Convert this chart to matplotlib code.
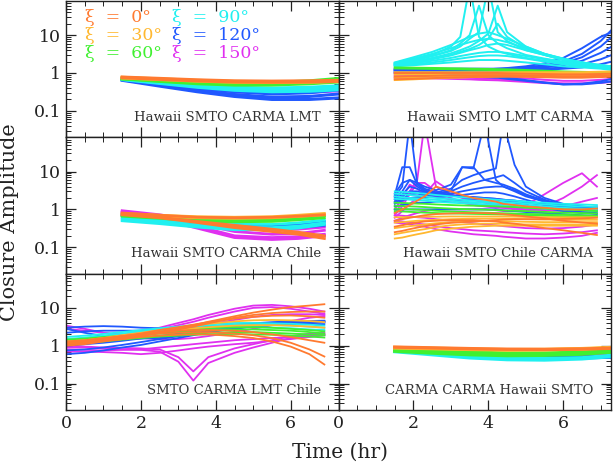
import numpy as np
import matplotlib
matplotlib.use("Agg")
import matplotlib.pyplot as plt
from matplotlib.ticker import MultipleLocator, LogLocator, NullFormatter

plt.rcParams['font.family'] = ['DejaVu Serif']

xi_names = ['0', '30', '60', '90', '120', '150']
xi_colors = ['#ff7a30', '#ffb830', '#40f030', '#20f0f0', '#2058ff', '#e030f0']

# ---- Hawaii SMTO CARMA LMT
p1_t = [1.5, 2.5, 3.5, 4.5, 5.5, 6.5, 7.3]
p1_xi0 = [[0.78, 0.72, 0.66, 0.62, 0.61, 0.62, 0.64],
          [0.75, 0.68, 0.62, 0.58, 0.57, 0.58, 0.60]]
p1_xi30 = [[0.77, 0.70, 0.64, 0.60, 0.59, 0.60, 0.63],
           [0.74, 0.67, 0.61, 0.57, 0.56, 0.57, 0.60]]
p1_xi60 = [[0.72, 0.65, 0.58, 0.55, 0.56, 0.62, 0.72],
           [0.70, 0.62, 0.55, 0.52, 0.53, 0.58, 0.66],
           [0.70, 0.60, 0.52, 0.48, 0.48, 0.52, 0.58]]
p1_xi90 = [[0.70, 0.58, 0.48, 0.42, 0.40, 0.42, 0.46],
           [0.68, 0.55, 0.44, 0.38, 0.36, 0.38, 0.42],
           [0.67, 0.53, 0.42, 0.35, 0.32, 0.33, 0.36]]
p1_xi120 = [[0.68, 0.52, 0.40, 0.32, 0.28, 0.30, 0.36],
            [0.66, 0.48, 0.35, 0.27, 0.23, 0.24, 0.28],
            [0.64, 0.45, 0.32, 0.24, 0.20, 0.20, 0.22]]
p1_xi150 = [[0.68, 0.54, 0.42, 0.35, 0.32, 0.33, 0.38],
            [0.67, 0.52, 0.40, 0.32, 0.30, 0.31, 0.34]]

# ---- Hawaii SMTO LMT CARMA
p2_t = [1.5, 2.0, 2.5, 3.0, 3.25, 3.5, 3.75, 4.0, 4.25, 4.5, 5.0, 5.5, 6.0, 6.5, 7.0, 7.3]
p2_xi0 = [[1.0, 1.0, 1.0, 1.0, 1.0, 1.0, 1.0, 1.0, 1.0, 0.98, 0.96, 0.94, 0.92, 0.92, 0.94, 0.96],
          [0.8, 0.82, 0.84, 0.86, 0.87, 0.87, 0.88, 0.88, 0.88, 0.88, 0.86, 0.84, 0.82, 0.82, 0.84, 0.86],
          [0.68, 0.7, 0.73, 0.76, 0.77, 0.78, 0.79, 0.79, 0.8, 0.8, 0.79, 0.77, 0.75, 0.75, 0.78, 0.8]]
p2_xi30 = [[1.05, 1.05, 1.05, 1.05, 1.05, 1.05, 1.05, 1.05, 1.05, 1.05, 1.05, 1.05, 1.05, 1.05, 1.08, 1.1],
           [0.9, 0.92, 0.93, 0.95, 0.95, 0.95, 0.95, 0.95, 0.95, 0.95, 0.95, 0.95, 0.95, 0.96, 0.98, 1.0],
           [0.75, 0.78, 0.8, 0.83, 0.84, 0.85, 0.86, 0.87, 0.87, 0.88, 0.88, 0.88, 0.88, 0.89, 0.9, 0.92],
           [0.65, 0.68, 0.72, 0.75, 0.76, 0.78, 0.79, 0.8, 0.81, 0.82, 0.83, 0.84, 0.85, 0.86, 0.87, 0.88]]
p2_xi60 = [[1.4, 1.38, 1.36, 1.33, 1.32, 1.3, 1.29, 1.28, 1.26, 1.25, 1.2, 1.15, 1.1, 1.07, 1.05, 1.05],
           [1.32, 1.3, 1.28, 1.25, 1.24, 1.22, 1.21, 1.2, 1.18, 1.16, 1.12, 1.08, 1.04, 1.01, 1.0, 1.0]]
p2_xi90 = [[1.8, 2.3, 3.0, 5.0, 9.0, 200, 9.0, 5.0, 3.8, 3.2, 2.5, 2.1, 1.8, 1.6, 1.5, 1.4],
           [1.7, 2.1, 2.8, 4.0, 6.0, 10, 60, 10, 6.0, 4.5, 3.0, 2.4, 2.0, 1.7, 1.5, 1.4],
           [1.75, 2.2, 2.8, 3.8, 5.0, 8.0, 12, 200, 12, 7.0, 4.0, 3.0, 2.3, 1.9, 1.6, 1.5],
           [1.7, 2.0, 2.5, 3.3, 4.0, 5.0, 7.0, 11, 60, 12, 5.0, 3.2, 2.4, 1.9, 1.6, 1.5],
           [1.65, 1.9, 2.4, 3.0, 3.6, 4.3, 5.5, 8.0, 20, 9.0, 4.5, 3.0, 2.2, 1.8, 1.5, 1.4],
           [1.6, 1.9, 2.3, 2.9, 3.4, 4.0, 4.6, 5.5, 6.0, 5.5, 4.0, 3.0, 2.2, 1.8, 1.5, 1.3],
           [1.6, 1.8, 2.1, 2.5, 2.8, 3.1, 3.4, 3.6, 3.6, 3.4, 2.8, 2.3, 1.9, 1.6, 1.4, 1.3],
           [1.55, 1.7, 1.9, 2.2, 2.4, 2.6, 2.8, 2.9, 2.9, 2.8, 2.4, 2.0, 1.7, 1.5, 1.35, 1.25],
           [1.5, 1.6, 1.75, 1.9, 2.0, 2.1, 2.2, 2.2, 2.2, 2.1, 1.9, 1.7, 1.5, 1.4, 1.3, 1.2],
           [1.9, 2.6, 3.6, 5.5, 7.0, 9.0, 11, 12, 10, 8.0, 5.0, 3.2, 2.3, 1.8, 1.5, 1.4],
           [1.85, 2.4, 3.2, 4.5, 5.5, 6.5, 7.5, 8.0, 7.5, 6.5, 4.5, 3.2, 2.4, 1.9, 1.6, 1.5]]
p2_xi120 = [[1.25, 1.25, 1.25, 1.25, 1.25, 1.25, 1.25, 1.25, 1.3, 1.3, 1.4, 1.6, 2.0, 3.2, 7.0, 14],
            [1.2, 1.2, 1.2, 1.2, 1.2, 1.2, 1.2, 1.2, 1.25, 1.3, 1.4, 1.5, 1.8, 2.6, 5.0, 9.0],
            [1.2, 1.2, 1.2, 1.2, 1.2, 1.2, 1.2, 1.2, 1.2, 1.2, 1.3, 1.4, 1.6, 2.1, 3.4, 5.0],
            [1.15, 1.15, 1.15, 1.15, 1.15, 1.15, 1.15, 1.15, 1.15, 1.2, 1.2, 1.3, 1.4, 1.7, 2.3, 3.0],
            [1.1, 1.1, 1.1, 1.1, 1.1, 1.1, 1.1, 1.1, 1.1, 1.1, 1.15, 1.2, 1.3, 1.4, 1.7, 2.0],
            [1.05, 1.0, 0.95, 0.9, 0.88, 0.86, 0.84, 0.82, 0.8, 0.75, 0.65, 0.56, 0.5, 0.5, 0.55, 0.6],
            [1.0, 0.95, 0.9, 0.85, 0.83, 0.81, 0.79, 0.77, 0.75, 0.7, 0.62, 0.55, 0.5, 0.52, 0.6, 0.7],
            [1.3, 1.3, 1.3, 1.3, 1.3, 1.3, 1.3, 1.3, 1.3, 1.35, 1.5, 1.8, 2.5, 4.5, 9.0, 12]]
p2_xi150 = [[0.95, 0.95, 0.93, 0.9, 0.88, 0.86, 0.84, 0.82, 0.8, 0.78, 0.72, 0.66, 0.62, 0.62, 0.66, 0.7],
            [0.85, 0.84, 0.82, 0.79, 0.77, 0.75, 0.73, 0.71, 0.69, 0.67, 0.62, 0.57, 0.53, 0.53, 0.56, 0.6],
            [0.75, 0.74, 0.72, 0.7, 0.69, 0.68, 0.66, 0.65, 0.64, 0.62, 0.58, 0.54, 0.52, 0.52, 0.55, 0.58]]

# ---- Hawaii SMTO CARMA Chile
p3_t = [1.5, 2.5, 3.5, 4.5, 5.5, 6.2, 6.9]
p3_xi0 = [[0.80, 0.70, 0.62, 0.60, 0.62, 0.66, 0.72],
          [0.75, 0.62, 0.48, 0.38, 0.30, 0.25, 0.20],
          [0.72, 0.60, 0.45, 0.33, 0.26, 0.22, 0.17]]
p3_xi30 = [[0.78, 0.70, 0.64, 0.62, 0.64, 0.70, 0.78],
           [0.74, 0.66, 0.60, 0.58, 0.60, 0.65, 0.72]]
p3_xi60 = [[0.70, 0.62, 0.55, 0.52, 0.54, 0.60, 0.68],
           [0.66, 0.58, 0.50, 0.47, 0.48, 0.53, 0.60]]
p3_xi90 = [[0.60, 0.52, 0.44, 0.40, 0.40, 0.44, 0.52],
           [0.55, 0.46, 0.38, 0.33, 0.33, 0.36, 0.44],
           [0.50, 0.42, 0.34, 0.29, 0.29, 0.32, 0.40]]
p3_xi120 = [[0.72, 0.60, 0.48, 0.40, 0.37, 0.40, 0.48],
            [0.68, 0.55, 0.42, 0.34, 0.31, 0.33, 0.38]]
p3_xi150 = [[0.92, 0.72, 0.50, 0.35, 0.30, 0.30, 0.34],
            [0.88, 0.66, 0.42, 0.26, 0.22, 0.23, 0.28],
            [0.84, 0.60, 0.36, 0.20, 0.18, 0.19, 0.22],
            [0.80, 0.56, 0.32, 0.18, 0.16, 0.17, 0.20]]

# ---- Hawaii SMTO Chile CARMA
p4_t = [1.5, 1.7, 1.9, 2.1, 2.3, 2.6, 3.0, 3.3, 3.6, 3.9, 4.2, 4.4, 4.7, 5.0, 5.5, 6.0, 6.5, 6.9]
p4_xi0 = [[0.5, 0.55, 0.6, 0.65, 0.7, 0.75, 0.78, 0.8, 0.8, 0.8, 0.78, 0.75, 0.7, 0.65, 0.58, 0.5, 0.45, 0.42],
          [0.35, 0.38, 0.42, 0.45, 0.48, 0.5, 0.52, 0.52, 0.52, 0.5, 0.48, 0.45, 0.42, 0.38, 0.32, 0.28, 0.24, 0.21],
          [0.8, 1.0, 1.3, 1.7, 2.2, 4.0, 3.0, 2.4, 2.0, 1.8, 1.6, 1.4, 1.3, 1.2, 1.1, 1.0, 1.0, 1.05],
          [0.25, 0.27, 0.3, 0.33, 0.36, 0.4, 0.44, 0.46, 0.48, 0.5, 0.52, 0.54, 0.55, 0.55, 0.55, 0.56, 0.58, 0.6]]
p4_xi30 = [[0.62, 0.62, 0.63, 0.63, 0.64, 0.64, 0.65, 0.65, 0.65, 0.65, 0.65, 0.65, 0.64, 0.63, 0.62, 0.62, 0.62, 0.62],
           [0.45, 0.46, 0.48, 0.5, 0.51, 0.53, 0.55, 0.56, 0.57, 0.57, 0.57, 0.57, 0.56, 0.55, 0.54, 0.53, 0.53, 0.53],
           [0.32, 0.34, 0.36, 0.38, 0.4, 0.43, 0.46, 0.47, 0.48, 0.49, 0.49, 0.49, 0.48, 0.47, 0.46, 0.46, 0.46, 0.46],
           [0.22, 0.24, 0.26, 0.28, 0.3, 0.34, 0.38, 0.4, 0.41, 0.42, 0.42, 0.42, 0.41, 0.4, 0.4, 0.4, 0.4, 0.4],
           [0.17, 0.18, 0.2, 0.22, 0.24, 0.28, 0.31, 0.33, 0.35, 0.36, 0.37, 0.37, 0.37, 0.37, 0.37, 0.37, 0.37, 0.37]]
p4_xi60 = [[1.5, 1.48, 1.45, 1.42, 1.4, 1.35, 1.3, 1.27, 1.25, 1.22, 1.2, 1.18, 1.15, 1.1, 1.05, 1.0, 0.95, 0.9],
           [1.25, 1.22, 1.2, 1.18, 1.15, 1.1, 1.05, 1.02, 1.0, 0.98, 0.96, 0.94, 0.92, 0.9, 0.86, 0.82, 0.8, 0.78],
           [1.05, 1.02, 1.0, 0.98, 0.96, 0.92, 0.88, 0.86, 0.84, 0.82, 0.8, 0.79, 0.78, 0.76, 0.74, 0.72, 0.7, 0.68],
           [0.9, 0.88, 0.86, 0.84, 0.82, 0.8, 0.78, 0.77, 0.76, 0.75, 0.74, 0.73, 0.72, 0.7, 0.68, 0.66, 0.65, 0.64]]
p4_xi90 = [[3.0, 2.9, 2.8, 2.7, 2.6, 2.4, 2.2, 2.1, 2.0, 1.9, 1.8, 1.75, 1.7, 1.6, 1.5, 1.4, 1.35, 1.3],
           [2.6, 2.5, 2.4, 2.3, 2.2, 2.0, 1.9, 1.8, 1.7, 1.65, 1.6, 1.55, 1.5, 1.45, 1.35, 1.25, 1.2, 1.15],
           [2.2, 2.1, 2.0, 1.95, 1.9, 1.8, 1.7, 1.6, 1.55, 1.5, 1.45, 1.4, 1.35, 1.3, 1.2, 1.1, 1.05, 1.0],
           [1.9, 1.85, 1.8, 1.75, 1.7, 1.6, 1.5, 1.45, 1.4, 1.35, 1.3, 1.25, 1.2, 1.15, 1.05, 1.0, 0.95, 0.9]]
p4_xi120 = [[2.2, 4.0, 200, 5.0, 3.5, 2.8, 2.4, 2.2, 2.1, 2.0, 1.9, 1.8, 1.7, 1.5, 1.3, 1.2, 1.1, 1.0],
            [2.0, 3.0, 6.0, 4.0, 3.0, 2.6, 3.0, 13, 12, 200, 6.0, 4.0, 3.0, 2.2, 1.6, 1.3, 1.1, 1.0],
            [1.8, 2.5, 4.0, 3.5, 2.8, 2.8, 3.5, 6.0, 8.0, 10, 12, 200, 15, 4.0, 2.0, 1.4, 1.2, 1.1],
            [1.6, 2.2, 3.0, 3.0, 2.6, 2.6, 3.0, 4.0, 5.0, 6.0, 7.0, 8.0, 5.0, 3.0, 1.8, 1.3, 1.1, 1.0],
            [1.5, 1.9, 2.5, 2.6, 2.4, 2.4, 2.6, 3.0, 3.4, 3.8, 4.0, 4.0, 3.2, 2.4, 1.6, 1.2, 1.0, 0.9],
            [1.4, 1.7, 2.0, 2.1, 2.1, 2.1, 2.2, 2.4, 2.6, 2.8, 2.8, 2.6, 2.2, 1.8, 1.3, 1.0, 0.85, 0.8],
            [1.2, 1.3, 1.4, 1.5, 1.5, 1.6, 1.7, 1.8, 1.9, 1.9, 1.8, 1.7, 1.5, 1.3, 1.1, 0.9, 0.8, 0.75],
            [1.0, 1.0, 1.0, 1.0, 1.0, 1.0, 1.0, 1.0, 1.0, 1.0, 1.0, 0.95, 0.9, 0.85, 0.8, 0.75, 0.7, 0.65],
            [2.4, 13, 13, 4.5, 3.2, 2.6, 2.3, 2.2, 2.1, 2.0, 1.9, 1.8, 1.7, 1.6, 1.4, 1.2, 1.1, 1.0],
            [2.6, 5.0, 6.0, 5.0, 4.0, 3.2, 4.5, 13, 13, 6.0, 5.0, 4.5, 3.5, 2.5, 1.7, 1.3, 1.1, 1.0]]
p4_xi150 = [[0.8, 1.5, 3.0, 6.0, 200, 4.0, 2.5, 2.0, 1.8, 1.6, 1.4, 1.3, 1.2, 1.1, 1.0, 1.0, 1.1, 1.2],
            [0.7, 1.2, 2.5, 5.0, 5.0, 3.0, 2.0, 1.6, 1.4, 1.3, 1.2, 1.1, 1.0, 0.95, 1.0, 1.2, 1.6, 2.0],
            [0.6, 0.9, 1.4, 2.0, 2.5, 2.2, 1.8, 1.5, 1.3, 1.2, 1.1, 1.1, 1.1, 1.3, 2.5, 5.0, 9.0, 4.0],
            [0.5, 0.6, 0.7, 0.8, 0.9, 1.0, 1.0, 1.0, 1.0, 1.0, 0.95, 0.9, 0.9, 0.95, 1.2, 2.0, 4.0, 8.0],
            [0.5, 0.48, 0.45, 0.42, 0.4, 0.36, 0.32, 0.3, 0.28, 0.27, 0.26, 0.25, 0.24, 0.23, 0.22, 0.23, 0.25, 0.28],
            [0.45, 0.42, 0.4, 0.37, 0.35, 0.3, 0.26, 0.24, 0.22, 0.21, 0.2, 0.19, 0.18, 0.17, 0.17, 0.18, 0.2, 0.24],
            [0.7, 0.68, 0.65, 0.62, 0.6, 0.55, 0.5, 0.46, 0.43, 0.4, 0.38, 0.36, 0.34, 0.32, 0.31, 0.32, 0.35, 0.4],
            [1.0, 2.0, 4.5, 3.5, 2.5, 5.5, 3.0, 2.2, 1.8, 1.5, 1.3, 1.2, 1.1, 1.0, 0.95, 0.9, 0.9, 0.9]]

# ---- SMTO CARMA LMT Chile
p5_t = [0, 0.5, 1, 1.5, 2, 2.5, 3, 3.4, 3.8, 4.5, 5, 5.5, 6, 6.5, 6.9]
p5_xi0 = [[1.1, 1.2, 1.4, 1.6, 1.9, 2.3, 2.9, 3.5, 4.3, 6.0, 7.5, 9.0, 10.5, 11.5, 12.5],
          [1.0, 1.1, 1.3, 1.5, 1.8, 2.2, 2.7, 3.2, 3.9, 5.5, 6.5, 7.3, 7.8, 8.0, 8.0],
          [1.2, 1.3, 1.5, 1.7, 1.9, 2.1, 2.2, 2.3, 2.3, 2.1, 1.9, 1.6, 1.2, 0.8, 0.52],
          [1.1, 1.2, 1.35, 1.5, 1.7, 1.85, 1.95, 2.0, 2.0, 1.8, 1.6, 1.3, 0.95, 0.6, 0.32],
          [1.3, 1.4, 1.6, 1.8, 2.0, 2.3, 2.5, 2.6, 2.6, 2.5, 2.3, 2.0, 1.7, 1.4, 1.2],
          [1.2, 1.3, 1.5, 1.8, 2.1, 2.6, 3.1, 3.6, 4.2, 5.2, 5.8, 6.2, 6.3, 6.0, 5.5]]
p5_xi30 = [[1.3, 1.4, 1.6, 1.9, 2.2, 2.6, 3.0, 3.4, 3.8, 4.4, 4.7, 4.8, 4.7, 4.5, 4.2],
           [1.2, 1.3, 1.5, 1.7, 2.0, 2.3, 2.6, 2.9, 3.1, 3.4, 3.5, 3.5, 3.4, 3.2, 3.0]]
p5_xi60 = [[1.3, 1.4, 1.55, 1.7, 1.9, 2.1, 2.3, 2.5, 2.6, 2.7, 2.7, 2.6, 2.5, 2.3, 2.1],
           [1.2, 1.3, 1.4, 1.55, 1.7, 1.85, 2.0, 2.1, 2.2, 2.3, 2.3, 2.2, 2.1, 2.0, 1.9],
           [1.45, 1.55, 1.7, 1.85, 2.05, 2.3, 2.5, 2.7, 2.9, 3.1, 3.1, 3.0, 2.8, 2.6, 2.4],
           [1.1, 1.2, 1.3, 1.45, 1.6, 1.75, 1.85, 1.95, 2.0, 2.05, 2.0, 1.95, 1.85, 1.75, 1.65]]
p5_xi90 = [[1.5, 1.65, 1.85, 2.1, 2.4, 2.7, 3.0, 3.2, 3.4, 3.6, 3.6, 3.5, 3.4, 3.2, 3.0],
           [1.7, 1.85, 2.05, 2.3, 2.6, 2.9, 3.2, 3.5, 3.7, 4.0, 4.0, 3.9, 3.8, 3.6, 3.4],
           [1.35, 1.5, 1.65, 1.85, 2.1, 2.35, 2.6, 2.8, 3.0, 3.1, 3.1, 3.0, 2.9, 2.7, 2.6]]
p5_xi120 = [[3.0, 3.2, 3.3, 3.2, 3.0, 2.9, 2.9, 3.0, 3.2, 3.6, 3.9, 4.2, 4.4, 4.5, 4.5],
            [0.6, 0.65, 0.75, 0.9, 1.05, 1.3, 1.6, 1.9, 2.3, 2.9, 3.3, 3.7, 4.0, 4.2, 4.3],
            [0.75, 0.8, 0.9, 1.05, 1.25, 1.5, 1.8, 2.1, 2.5, 3.1, 3.5, 3.9, 4.2, 4.5, 4.6],
            [2.2, 2.4, 2.5, 2.5, 2.5, 2.5, 2.6, 2.8, 3.0, 3.4, 3.7, 4.0, 4.2, 4.3, 4.3],
            [1.0, 1.1, 1.2, 1.35, 1.55, 1.8, 2.1, 2.4, 2.7, 3.3, 3.6, 3.9, 4.1, 4.2, 4.1],
            [2.8, 2.2, 1.8, 1.6, 1.55, 1.6, 1.8, 2.0, 2.3, 2.8, 3.2, 3.5, 3.7, 3.8, 3.7]]
p5_xi150 = [[1.2, 1.4, 1.6, 1.9, 2.3, 3.0, 4.0, 5.0, 6.5, 9.5, 11.5, 12, 11, 9.5, 8.0],
            [1.0, 1.2, 1.4, 1.7, 2.1, 2.7, 3.5, 4.3, 5.5, 8.0, 10, 10.5, 9.5, 8.0, 7.0],
            [3.4, 2.8, 2.2, 1.8, 1.6, 1.5, 1.5, 1.6, 1.8, 2.3, 2.8, 3.5, 4.5, 5.5, 6.0],
            [0.9, 0.9, 0.85, 0.8, 0.78, 0.7, 0.38, 0.12, 0.35, 0.65, 0.9, 1.2, 1.6, 1.9, 2.0],
            [1.0, 0.95, 0.9, 0.88, 0.85, 0.8, 0.5, 0.21, 0.5, 0.85, 1.1, 1.4, 1.8, 2.1, 2.2],
            [0.7, 0.7, 0.68, 0.65, 0.6, 0.65, 0.75, 0.85, 0.95, 1.1, 1.2, 1.35, 1.5, 1.7, 1.9],
            [0.8, 0.78, 0.75, 0.78, 0.8, 0.9, 1.0, 1.1, 1.2, 1.4, 1.5, 1.6, 1.7, 1.8, 1.9],
            [2.8, 2.5, 2.2, 2.0, 2.0, 2.2, 2.6, 3.0, 3.6, 4.8, 5.8, 6.5, 6.8, 6.8, 6.5]]

# ---- CARMA CARMA Hawaii SMTO
p6_t = [1.5, 2.5, 3.5, 4.5, 5.5, 6.5, 7.3]
p6_xi0 = [[0.92, 0.88, 0.84, 0.81, 0.80, 0.82, 0.86]]
p6_xi30 = [[0.90, 0.86, 0.82, 0.79, 0.80, 0.84, 0.90],
           [0.88, 0.84, 0.80, 0.77, 0.78, 0.82, 0.88]]
p6_xi60 = [[0.80, 0.74, 0.68, 0.64, 0.64, 0.68, 0.76],
           [0.72, 0.64, 0.58, 0.55, 0.56, 0.60, 0.68]]
p6_xi90 = [[0.75, 0.64, 0.54, 0.48, 0.46, 0.48, 0.56],
           [0.70, 0.58, 0.48, 0.43, 0.42, 0.45, 0.52]]
p6_xi120 = [[0.78, 0.70, 0.62, 0.56, 0.52, 0.50, 0.52],
            [0.74, 0.65, 0.57, 0.51, 0.48, 0.48, 0.50]]
p6_xi150 = [[0.80, 0.72, 0.64, 0.58, 0.56, 0.58, 0.64]]

panels = [
    ("Hawaii SMTO CARMA LMT", p1_t, [p1_xi0, p1_xi30, p1_xi60, p1_xi90, p1_xi120, p1_xi150], 2.2),
    ("Hawaii SMTO LMT CARMA", p2_t, [p2_xi0, p2_xi30, p2_xi60, p2_xi90, p2_xi120, p2_xi150], 1.4),
    ("Hawaii SMTO CARMA Chile", p3_t, [p3_xi0, p3_xi30, p3_xi60, p3_xi90, p3_xi120, p3_xi150], 2.0),
    ("Hawaii SMTO Chile CARMA", p4_t, [p4_xi0, p4_xi30, p4_xi60, p4_xi90, p4_xi120, p4_xi150], 1.3),
    ("SMTO CARMA LMT Chile", p5_t, [p5_xi0, p5_xi30, p5_xi60, p5_xi90, p5_xi120, p5_xi150], 1.3),
    ("CARMA CARMA Hawaii SMTO", p6_t, [p6_xi0, p6_xi30, p6_xi60, p6_xi90, p6_xi120, p6_xi150], 2.4),
]

fig, axes = plt.subplots(3, 2, figsize=(6.13, 4.66), dpi=100, sharex=True, sharey=True)
fig.subplots_adjust(left=0.1077, right=0.997, top=0.998, bottom=0.12, hspace=0, wspace=0)

for ax, (name, t, groups, lw) in zip(axes.flat, panels):
    # last xi drawn first, 0 deg ends up on top
    for k in range(5, -1, -1):
        for curve in groups[k]:
            ax.plot(t, curve, color=xi_colors[k], lw=lw, solid_joinstyle='round')
    ax.set_yscale('log')
    ax.set_xlim(0, 7.28)
    ax.set_ylim(0.02, 80)
    ax.xaxis.set_major_locator(MultipleLocator(2))
    ax.xaxis.set_minor_locator(MultipleLocator(0.5))
    ax.set_yticks([0.1, 1, 10])
    ax.set_yticklabels(['0.1', '1', '10'])
    ax.yaxis.set_minor_locator(LogLocator(base=10, subs=np.arange(2, 10)))
    ax.yaxis.set_minor_formatter(NullFormatter())
    ax.tick_params(which='both', direction='in', top=True, right=True, labelsize=12.5, colors='#222222')
    ax.tick_params(which='major', length=7, width=0.9)
    ax.tick_params(which='minor', length=3.5, width=0.7)
    for s in ax.spines.values():
        s.set_linewidth(1.0)
        s.set_color('#222222')
    ax.text(0.935, 0.145, name, transform=ax.transAxes, ha='right', va='center',
            fontsize=9.5, color='#333333')

# legend of xi values in the first panel
ax0 = axes[0, 0]
for k in range(6):
    col = k // 3
    row = k % 3
    ax0.text(0.069 + 0.318 * col, 0.876 - 0.131 * row, "ξ  =  %s°" % xi_names[k],
             transform=ax0.transAxes, ha='left', va='center', fontsize=12.5,
             color=xi_colors[k])

fig.text(10 / 613, 1 - 222 / 466, "Closure Amplitude", rotation=90, ha='center', va='center',
         fontsize=15, color='#222222')
fig.text(340 / 613, 1 - 452 / 466, "Time (hr)", ha='center', va='center', fontsize=14.5,
         color='#222222')

fig.savefig("out.png", dpi=100)
